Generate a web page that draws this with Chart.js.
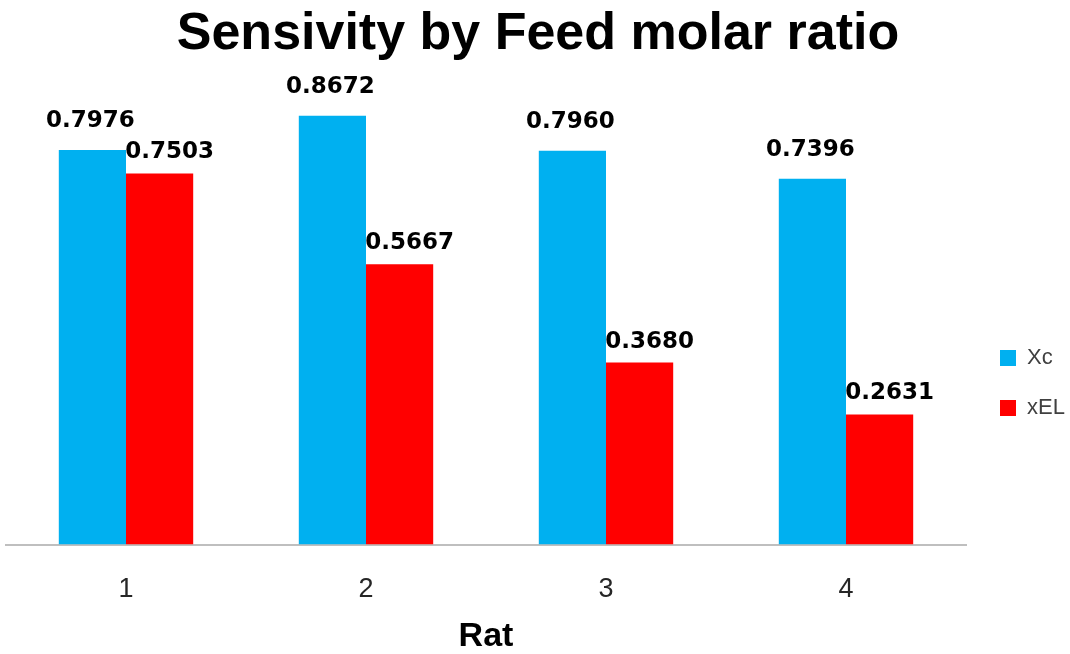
<!DOCTYPE html>
<html>
<head>
<meta charset="utf-8">
<script src="https://cdn.jsdelivr.net/npm/chart.js@4/dist/chart.umd.min.js"></script>
<style>
  html, body { margin: 0; padding: 0; background: #fff; }
  #wrap { width: 1070px; height: 654px; }
</style>
</head>
<body>
<div id="wrap"><canvas id="feedChart"></canvas></div>
<script>
// chart data
const categories = ['1', '2', '3', '4'];
const xcValues = [0.7976, 0.8672, 0.7960, 0.7396];
const xelValues = [0.7503, 0.5667, 0.3680, 0.2631];

const sans = '"Liberation Sans", Arial, sans-serif';

// draws the value above each bar
const valueLabels = {
    id: 'valueLabels',
    afterDatasetsDraw(chart) {
        const ctx = chart.ctx;
        ctx.save();
        ctx.font = 'bold 23px "DejaVu Sans", sans-serif';
        ctx.fillStyle = '#000';
        ctx.textAlign = 'center';
        ctx.textBaseline = 'middle';
        chart.data.datasets.forEach((ds, i) => {
            const meta = chart.getDatasetMeta(i);
            meta.data.forEach((bar, j) => {
                ctx.fillText(ds.data[j].toFixed(4), bar.x + ds.labelDx, bar.y + ds.labelDy);
            });
        });
        ctx.restore();
    }
};

function initFeedChart() {
    const ctx = document.getElementById('feedChart');
    if (!ctx) return;

    new Chart(ctx, {
        type: 'bar',
        data: {
            labels: categories,
            datasets: [{
                label: 'Xc',
                data: xcValues,
                backgroundColor: '#00B0F0',
                borderWidth: 0,
                labelDx: -2,
                labelDy: -29
            }, {
                label: 'xEL',
                data: xelValues,
                backgroundColor: '#FF0000',
                borderWidth: 0,
                labelDx: 10,
                labelDy: -21
            }]
        },
        options: {
            responsive: true,
            maintainAspectRatio: false,
            animation: false,
            categoryPercentage: 0.56,
            barPercentage: 1.0,
            layout: {
                padding: { left: 6, right: 0, top: 0, bottom: 0 }
            },
            scales: {
                x: {
                    grid: { display: false, drawTicks: false },
                    border: { display: true, color: '#bfbfbf', width: 2 },
                    ticks: {
                        padding: 29,
                        color: '#262626',
                        font: { family: sans, size: 27 }
                    },
                    title: {
                        display: true,
                        text: 'Rat',
                        color: '#000',
                        padding: { top: -15, bottom: 0 },
                        font: { family: sans, size: 34, weight: 'bold', lineHeight: 1 }
                    }
                },
                y: {
                    position: 'right',
                    min: 0,
                    max: 0.9,
                    grid: { display: false },
                    border: { display: false },
                    ticks: { display: false },
                    afterFit(scale) { scale.width = 6; }   // gap between plot and legend
                }
            },
            plugins: {
                title: {
                    display: true,
                    text: 'Sensivity by Feed molar ratio',
                    color: '#000',
                    padding: { top: 3, bottom: 34 },
                    font: { family: sans, size: 52, weight: 'bold' }
                },
                legend: {
                    position: 'right',
                    align: 'center',
                    maxWidth: 98,
                    title: {
                        display: true,
                        text: ' ',
                        font: { size: 12, lineHeight: 1 },
                        padding: { top: 0, bottom: 100 }
                    },
                    labels: {
                        boxWidth: 16,
                        boxHeight: 16,
                        padding: 28,
                        color: '#404040',
                        font: { family: sans, size: 22 }
                    }
                },
                tooltip: { enabled: false }
            }
        },
        plugins: [valueLabels]
    });
}

initFeedChart();
</script>
</body>
</html>
